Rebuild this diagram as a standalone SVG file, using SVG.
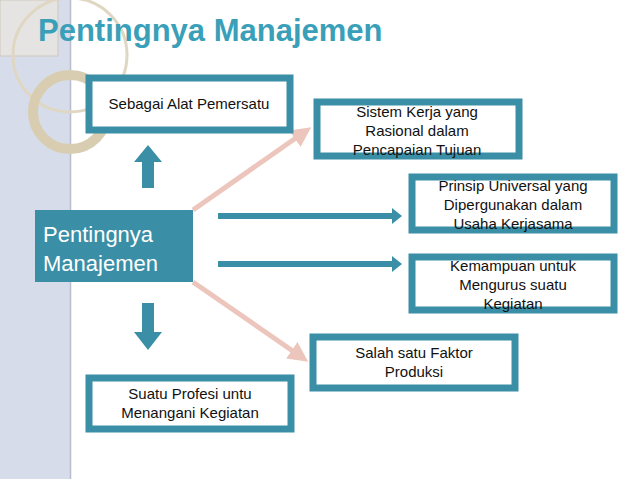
<svg xmlns="http://www.w3.org/2000/svg" width="638" height="479" viewBox="0 0 638 479">
<style>
.box{fill:#fff;stroke:#3a8fa6;stroke-width:7}
.t{font-family:"Liberation Sans",Arial,sans-serif;font-size:15px;fill:#111;text-anchor:middle}
.h{fill:#3a8fa6}
.pk{stroke:#ecc6bd;stroke-width:5;fill:none}
.w{font-family:"Liberation Sans",Arial,sans-serif;font-size:22px;fill:#fff}
</style>
<defs>
<marker id="pa" markerWidth="4" markerHeight="4" refX="2" refY="2" orient="auto"><path d="M0,0L4,2L0,4z" fill="#ecc6bd"/></marker>
</defs>
<rect width="638" height="479" fill="#fff"/>
<rect x="0" y="0" width="70" height="479" fill="#d6dcea"/>
<line x1="70.5" y1="0" x2="70.5" y2="479" stroke="#b8bccb" stroke-width="1.5"/>
<rect x="0" y="0" width="58" height="56" fill="#e6e3e3" stroke="#cfc8bb"/>
<circle cx="70" cy="55" r="57" fill="none" stroke="#e0d7c2" stroke-width="3"/>
<circle cx="70" cy="112" r="37" fill="none" stroke="#d8cdb0" stroke-width="10"/>
<text x="38" y="41" font-family="Liberation Sans,Arial,sans-serif" font-size="31" font-weight="bold" fill="#3a9fb8">Pentingnya Manajemen</text>
<g id="connectors">
<line class="pk" x1="193" y1="210" x2="303" y2="133" marker-end="url(#pa)"/>
<line class="pk" x1="193" y1="282" x2="300" y2="356" marker-end="url(#pa)"/>
<path class="h" d="M218,213H392V208L402,216L392,224V219H218z"/>
<path class="h" d="M218,261H392V256L402,264L392,272V267H218z"/>
<path class="h" d="M142,188V162H134L148,145L162,162H154V188z"/>
<path class="h" d="M142,303V332H134L148,350L162,332H154V303z"/>
</g>
<g id="center"><rect x="35" y="210" width="158" height="72" fill="#3a8fa6"/>
<text class="w" x="43" y="242">Pentingnya</text>
<text class="w" x="43" y="271">Manajemen</text></g>
<g id="n1"><rect class="box" x="89" y="78" width="201" height="52"/><text class="t" x="189" y="109">Sebagai Alat Pemersatu</text></g>
<g id="n2"><rect class="box" x="317" y="102" width="202" height="54"/><text class="t" x="417" y="117">Sistem Kerja yang</text><text class="t" x="417" y="136">Rasional dalam</text><text class="t" x="417" y="155">Pencapaian Tujuan</text></g>
<g id="n3"><rect class="box" x="412" y="177" width="202" height="53"/><text class="t" x="513" y="191">Prinsip Universal yang</text><text class="t" x="513" y="210">Dipergunakan dalam</text><text class="t" x="513" y="229">Usaha Kerjasama</text></g>
<g id="n4"><rect class="box" x="412" y="257" width="202" height="53"/><text class="t" x="513" y="271">Kemampuan untuk</text><text class="t" x="513" y="290">Mengurus suatu</text><text class="t" x="513" y="309">Kegiatan</text></g>
<g id="n5"><rect class="box" x="313" y="337" width="202" height="51"/><text class="t" x="414" y="358">Salah satu Faktor</text><text class="t" x="414" y="377">Produksi</text></g>
<g id="n6"><rect class="box" x="89" y="378" width="202" height="51"/><text class="t" x="190" y="399">Suatu Profesi untu</text><text class="t" x="190" y="418">Menangani Kegiatan</text></g>
</svg>
